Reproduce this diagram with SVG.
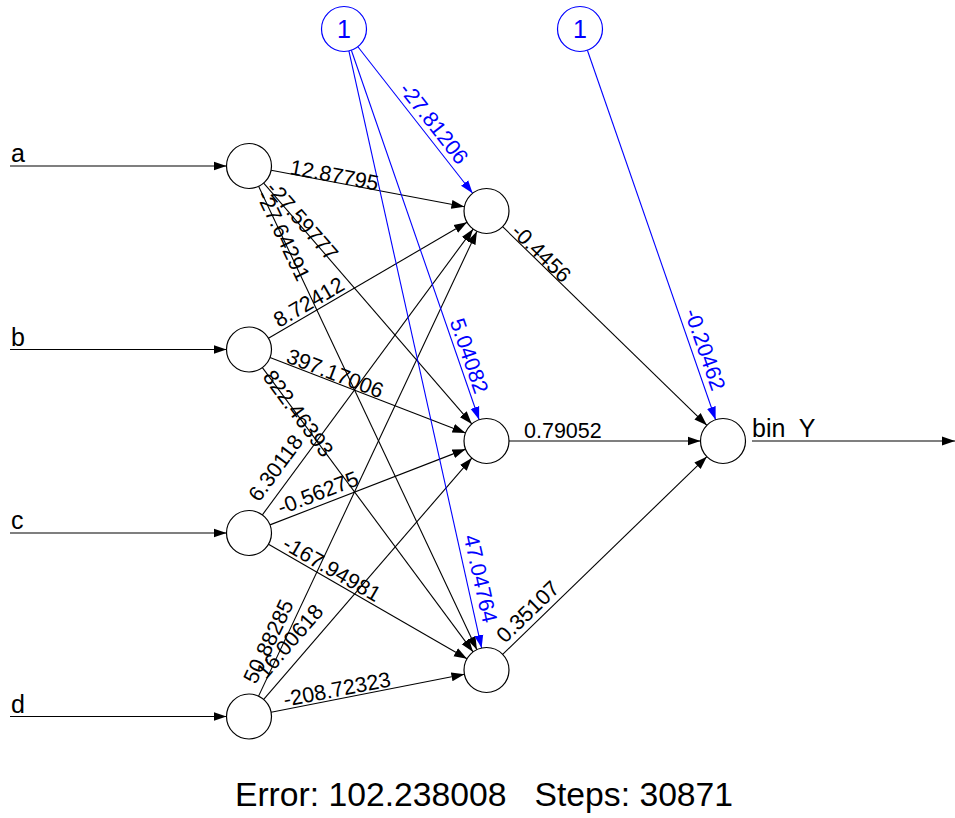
<svg xmlns="http://www.w3.org/2000/svg" width="955" height="818" viewBox="0 0 955 818">
<style>
text{font-family:"Liberation Sans",Arial,sans-serif;}
.node{fill:#fff;stroke:#000;stroke-width:1.2;}
.bias{fill:#fff;stroke:#00f;stroke-width:1.2;}
.ln{stroke:#000;stroke-width:1.1;fill:none;marker-end:url(#ah);}
.bl{stroke:#00f;stroke-width:1.1;fill:none;marker-end:url(#ahb);}
.w{font-size:21.5px;fill:#000;}
.wb{font-size:21.5px;fill:#00f;text-anchor:end;}
.nm{font-size:25px;fill:#000;white-space:pre;}
.one{font-size:25px;fill:#00f;text-anchor:middle;}
</style>
<defs>
<marker id="ah" markerWidth="13" markerHeight="10" refX="13" refY="5" orient="auto" markerUnits="userSpaceOnUse"><path d="M0,0.5 L13,5 L0,9.5 z" fill="#000"/></marker>
<marker id="ahb" markerWidth="13" markerHeight="10" refX="13" refY="5" orient="auto" markerUnits="userSpaceOnUse"><path d="M0,0.5 L13,5 L0,9.5 z" fill="#00f"/></marker>
</defs>
<rect width="955" height="818" fill="#fff"/>
<g id="connectors">
<line class="ln" x1="10" y1="166" x2="226.5" y2="166"/>
<line class="ln" x1="10" y1="349.5" x2="226.5" y2="349.5"/>
<line class="ln" x1="10" y1="533" x2="226.5" y2="533"/>
<line class="ln" x1="10" y1="716.5" x2="226.5" y2="716.5"/>
<line class="ln" x1="271.11" y1="170.19" x2="464.39" y2="206.81"/>
<line class="ln" x1="263.71" y1="183.03" x2="471.79" y2="423.97"/>
<line class="ln" x1="258.59" y1="186.35" x2="476.91" y2="649.65"/>
<line class="ln" x1="268.44" y1="338.17" x2="467.06" y2="222.33"/>
<line class="ln" x1="269.99" y1="357.59" x2="465.50" y2="432.91"/>
<line class="ln" x1="262.40" y1="367.58" x2="473.10" y2="651.92"/>
<line class="ln" x1="262.36" y1="514.89" x2="473.14" y2="229.11"/>
<line class="ln" x1="269.98" y1="524.87" x2="465.52" y2="449.13"/>
<line class="ln" x1="268.49" y1="544.24" x2="467.01" y2="658.76"/>
<line class="ln" x1="258.57" y1="696.14" x2="476.93" y2="231.36"/>
<line class="ln" x1="263.69" y1="699.46" x2="471.81" y2="458.04"/>
<line class="ln" x1="271.08" y1="712.18" x2="464.42" y2="674.32"/>
<line class="ln" x1="502.63" y1="226.69" x2="706.87" y2="425.31"/>
<line class="ln" x1="509" y1="441" x2="700.5" y2="441"/>
<line class="ln" x1="502.66" y1="654.35" x2="706.84" y2="456.65"/>
<line class="ln" x1="752" y1="441" x2="955" y2="441"/>
<line class="bl" x1="357.87" y1="46.72" x2="472.63" y2="193.28"/>
<line class="bl" x1="351.35" y1="50.26" x2="479.15" y2="419.74"/>
<line class="bl" x1="348.88" y1="50.96" x2="481.62" y2="648.04"/>
<line class="bl" x1="587.38" y1="50.26" x2="715.62" y2="419.74"/>
</g>
<g id="weights">
<text class="w" transform="translate(289 174) rotate(10.73)">12.87795</text>
<text class="w" transform="translate(265 189) rotate(49.18)">-27.59777</text>
<text class="w" transform="translate(256 195) rotate(64.77)">-27.64291</text>
<text class="w" transform="translate(279 328) rotate(-30.25)">8.72412</text>
<text class="w" transform="translate(285 362) rotate(21.07)">397.17006</text>
<text class="w" transform="translate(262 377) rotate(53.46)">822.46393</text>
<text class="w" transform="translate(259 503) rotate(-53.59)">6.30118</text>
<text class="w" transform="translate(281 515) rotate(-21.18)">-0.56275</text>
<text class="w" transform="translate(281 548) rotate(29.98)">-167.94981</text>
<text class="w" transform="translate(256 685) rotate(-64.83)">50.88285</text>
<text class="w" transform="translate(266 680) rotate(-49.24)">16.00618</text>
<text class="w" transform="translate(285 707) rotate(-11.08)">-208.72323</text>
<text class="w" transform="translate(510 233) rotate(44.2)">-0.4456</text>
<text class="w" transform="translate(524 438)">0.79052</text>
<text class="w" transform="translate(505 644) rotate(-44.08)">0.35107</text>
<text class="wb" transform="translate(458 166) rotate(51.94)">-27.81206</text>
<text class="wb" transform="translate(475 395) rotate(70.92)">5.04082</text>
<text class="wb" transform="translate(483 624) rotate(77.47)">47.04764</text>
<text class="wb" transform="translate(712 392) rotate(70.86)">-0.20462</text>
</g>
<g id="in_a"><circle class="node" cx="249" cy="166" r="22.5"/><text class="nm" x="11" y="162">a</text></g>
<g id="in_b"><circle class="node" cx="249" cy="349.5" r="22.5"/><text class="nm" x="11" y="345.5">b</text></g>
<g id="in_c"><circle class="node" cx="249" cy="533" r="22.5"/><text class="nm" x="11" y="529">c</text></g>
<g id="in_d"><circle class="node" cx="249" cy="716.5" r="22.5"/><text class="nm" x="11" y="712.5">d</text></g>
<g id="hid_1"><circle class="node" cx="486.5" cy="211" r="22.5"/></g>
<g id="hid_2"><circle class="node" cx="486.5" cy="441" r="22.5"/></g>
<g id="hid_3"><circle class="node" cx="486.5" cy="670" r="22.5"/></g>
<g id="out"><circle class="node" cx="723" cy="441" r="22.5"/><text class="nm" x="752" y="437" xml:space="preserve">bin  Y</text></g>
<g id="bias_1"><circle class="bias" cx="344" cy="29" r="22.5"/><text class="one" x="344" y="38">1</text></g>
<g id="bias_2"><circle class="bias" cx="580" cy="29" r="22.5"/><text class="one" x="580" y="38">1</text></g>
<text x="484" y="806" font-size="33.7" text-anchor="middle" xml:space="preserve" style="white-space:pre">Error: 102.238008   Steps: 30871</text>
</svg>
